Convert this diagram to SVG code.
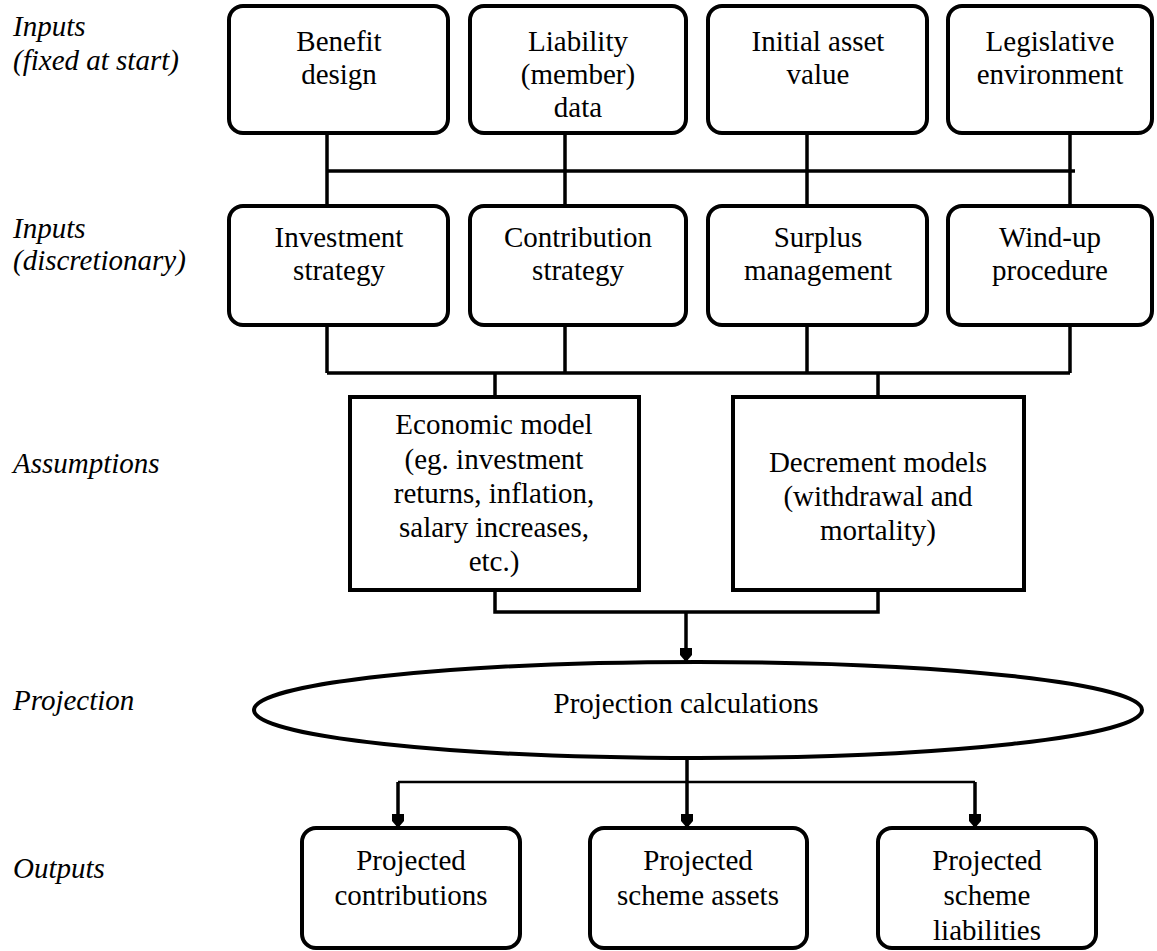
<svg xmlns="http://www.w3.org/2000/svg" width="1157" height="951" viewBox="0 0 1157 951">
<defs>
<marker id="arr" markerWidth="14" markerHeight="12" refX="14" refY="6" orient="auto" markerUnits="userSpaceOnUse" viewBox="0 0 14 12">
<path d="M0,0 L7,0 L14,6 L7,12 L0,12 Z" fill="#000"/>
</marker>
</defs>
<style>
.box{fill:#fff;stroke:#000;stroke-width:4}
.t{font-size:29px;fill:#000;text-anchor:middle}
.lab{font-size:29px;font-style:italic;fill:#000}
.c{fill:none;stroke:#000;stroke-width:3.5}
.c2{fill:none;stroke:#000;stroke-width:2.5}
</style>
<rect width="1157" height="951" fill="#fff"/>
<g font-family="Liberation Serif, DejaVu Serif, Times New Roman, Times, serif">
<g id="labels">
<text class="lab" x="13" y="36">Inputs</text>
<text class="lab" x="13" y="70">(fixed at start)</text>
<text class="lab" x="13" y="238">Inputs</text>
<text class="lab" x="13" y="270">(discretionary)</text>
<text class="lab" x="13" y="473">Assumptions</text>
<text class="lab" x="13" y="710">Projection</text>
<text class="lab" x="13" y="878">Outputs</text>
</g>
<g id="connectors">
<path class="c" d="M327,133 V206 M565,133 V206 M807,133 V206 M1070,133 V206 M327,171 H1075"/>
<path class="c" d="M327,325 V373 M565,325 V373 M807,325 V373 M1070,325 V373 M327,373 H1070 M495,373 V397 M878,373 V397"/>
<path class="c" d="M495,590 V612 H878 V590"/>
<path class="c" d="M686,612 V662" marker-end="url(#arr)"/>
<path class="c" d="M687,758 V828" marker-end="url(#arr)"/>
<path class="c2" d="M398,782 H975"/>
<path class="c" d="M398,782 V828" marker-end="url(#arr)"/>
<path class="c" d="M975,782 V828" marker-end="url(#arr)"/>
</g>
<g id="benefit-design">
<rect class="box" x="229" y="6" width="219" height="127" rx="14"/>
<text class="t" x="339" y="51">Benefit</text>
<text class="t" x="339" y="84">design</text>
</g>
<g id="liability-data">
<rect class="box" x="470" y="6" width="216" height="127" rx="14"/>
<text class="t" x="578" y="51">Liability</text>
<text class="t" x="578" y="84">(member)</text>
<text class="t" x="578" y="117">data</text>
</g>
<g id="initial-asset-value">
<rect class="box" x="708" y="6" width="219" height="127" rx="14"/>
<text class="t" x="818" y="51">Initial asset</text>
<text class="t" x="818" y="84">value</text>
</g>
<g id="legislative-environment">
<rect class="box" x="948" y="6" width="204" height="127" rx="14"/>
<text class="t" x="1050" y="51">Legislative</text>
<text class="t" x="1050" y="84">environment</text>
</g>
<g id="investment-strategy">
<rect class="box" x="229" y="206" width="219" height="119" rx="14"/>
<text class="t" x="339" y="247">Investment</text>
<text class="t" x="339" y="280">strategy</text>
</g>
<g id="contribution-strategy">
<rect class="box" x="470" y="206" width="216" height="119" rx="14"/>
<text class="t" x="578" y="247">Contribution</text>
<text class="t" x="578" y="280">strategy</text>
</g>
<g id="surplus-management">
<rect class="box" x="708" y="206" width="219" height="119" rx="14"/>
<text class="t" x="818" y="247">Surplus</text>
<text class="t" x="818" y="280">management</text>
</g>
<g id="wind-up-procedure">
<rect class="box" x="948" y="206" width="204" height="119" rx="14"/>
<text class="t" x="1050" y="247">Wind-up</text>
<text class="t" x="1050" y="280">procedure</text>
</g>
<g id="economic-model">
<rect class="box" x="350" y="397" width="289" height="193"/>
<text class="t" x="494" y="434">Economic model</text>
<text class="t" x="494" y="469">(eg. investment</text>
<text class="t" x="494" y="503">returns, inflation,</text>
<text class="t" x="494" y="537">salary increases,</text>
<text class="t" x="494" y="571">etc.)</text>
</g>
<g id="decrement-models">
<rect class="box" x="733" y="397" width="291" height="193"/>
<text class="t" x="878" y="472">Decrement models</text>
<text class="t" x="878" y="506">(withdrawal and</text>
<text class="t" x="878" y="540">mortality)</text>
</g>
<g id="projection-calculations">
<ellipse class="box" cx="698" cy="710" rx="444" ry="48"/>
<text class="t" x="686" y="713">Projection calculations</text>
</g>
<g id="projected-contributions">
<rect class="box" x="302" y="828" width="218" height="120" rx="14"/>
<text class="t" x="411" y="870">Projected</text>
<text class="t" x="411" y="905">contributions</text>
</g>
<g id="projected-scheme-assets">
<rect class="box" x="590" y="828" width="217" height="120" rx="14"/>
<text class="t" x="698" y="870">Projected</text>
<text class="t" x="698" y="905">scheme assets</text>
</g>
<g id="projected-scheme-liabilities">
<rect class="box" x="878" y="828" width="218" height="120" rx="14"/>
<text class="t" x="987" y="870">Projected</text>
<text class="t" x="987" y="905">scheme</text>
<text class="t" x="987" y="940">liabilities</text>
</g>
</g>
</svg>
